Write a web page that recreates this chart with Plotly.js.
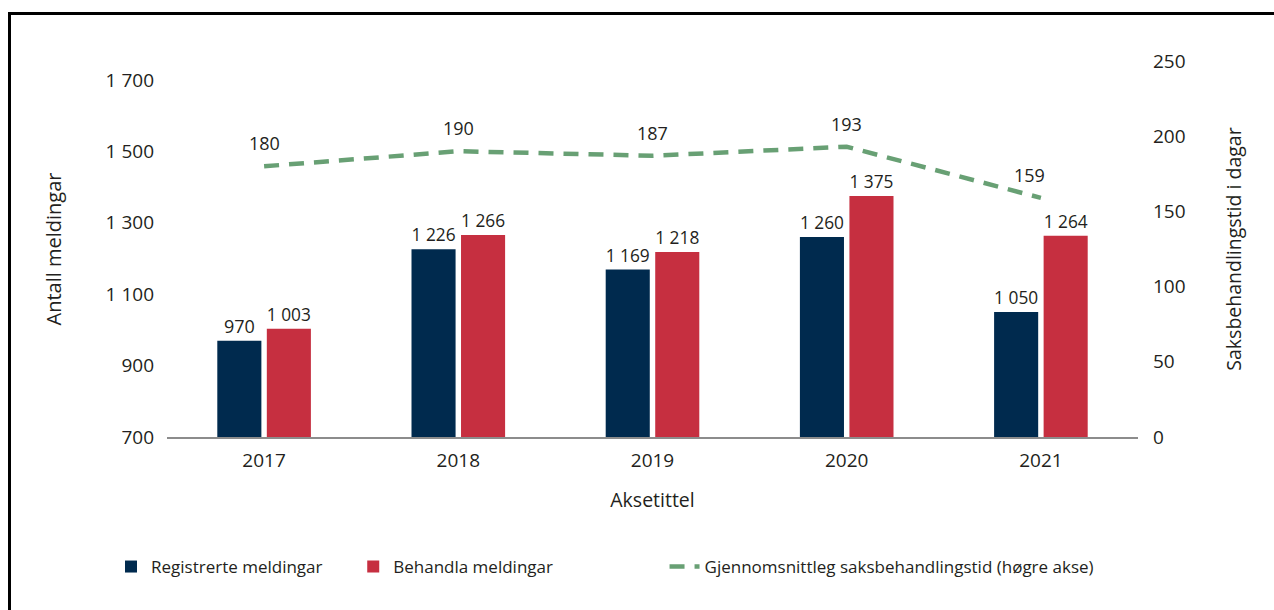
<!DOCTYPE html>
<html>
<head>
<meta charset="utf-8">
<script src="https://cdn.plot.ly/plotly-3.0.1.min.js"></script>
<style>
  html, body { margin: 0; padding: 0; background: #ffffff; overflow: hidden; }
  #wrap { position: relative; width: 1274px; height: 610px; }
  #chart { position: absolute; left: 0; top: 0; width: 1274px; height: 610px; }
  #frame { position: absolute; left: 8px; top: 12px; width: 1300px; height: 700px;
           border: 3px solid #000; box-sizing: border-box; pointer-events: none; }
</style>
</head>
<body>
<div id="wrap">
  <div id="chart"></div>
  <div id="frame"></div>
</div>
<script>
const years = ['2017', '2018', '2019', '2020', '2021'];
const registrerte = [970, 1226, 1169, 1260, 1050];
const behandla = [1003, 1266, 1218, 1375, 1264];
const saksbehandlingstid = [180, 190, 187, 193, 159];

const FONT = 'Open Sans, Noto Sans, sans-serif';
const TXT = '#231f20';

const traces = [
  {
    type: 'bar', name: 'Registrerte meldingar', x: years, y: registrerte,
    marker: { color: '#002a4e' }, legend: 'legend',
    texttemplate: '%{y:,d}', textposition: 'outside', cliponaxis: false,
    textfont: { family: FONT, size: 18, color: TXT }, hoverinfo: 'skip'
  },
  {
    type: 'bar', name: 'Behandla meldingar', x: years, y: behandla,
    marker: { color: '#c62f40' }, legend: 'legend2',
    texttemplate: '%{y:,d}', textposition: 'outside', cliponaxis: false,
    textfont: { family: FONT, size: 18, color: TXT }, hoverinfo: 'skip'
  },
  {
    type: 'scatter', mode: 'lines', name: 'Gjennomsnittleg saksbehandlingstid (høgre akse)',
    x: years, y: saksbehandlingstid, yaxis: 'y2', legend: 'legend3',
    line: { color: '#68a074', width: 4.5, dash: '15px,10px' }, hoverinfo: 'skip'
  }
];

const annotations = years.map((yr, i) => ({
  x: i, y: saksbehandlingstid[i], xref: 'x', yref: 'y2',
  text: String(saksbehandlingstid[i]), showarrow: false,
  yanchor: 'middle', yshift: 23, xshift: i === years.length - 1 ? -11 : 0,
  font: { family: FONT, size: 18, color: TXT }
}));

const legendBase = {
  orientation: 'h', xanchor: 'left', y: -0.3457, yanchor: 'middle',
  font: { family: FONT, size: 17, color: TXT }, bgcolor: 'rgba(0,0,0,0)', borderwidth: 0
};

const layout = {
  width: 1274, height: 610,
  margin: { l: 167, r: 136, t: 61, b: 173 },
  paper_bgcolor: '#ffffff', plot_bgcolor: '#ffffff',
  separators: ', ',
  font: { family: FONT, size: 19, color: TXT },
  barmode: 'group', bargap: 0.49, bargroupgap: 0.11,
  showlegend: true,
  legend: Object.assign({}, legendBase, { x: -0.0577 }),
  legend2: Object.assign({}, legendBase, { x: 0.1918 }),
  legend3: Object.assign({}, legendBase, { x: 0.5124 }),
  xaxis: {
    type: 'category', showgrid: false, zeroline: false,
    showline: true, linecolor: '#8c8c8c', linewidth: 2,
    ticks: '', ticklabelstandoff: 5,
    tickfont: { family: FONT, size: 19, color: TXT },
    title: { text: 'Aksetittel', standoff: 22, font: { family: FONT, size: 19.5, color: TXT } }
  },
  yaxis: {
    range: [700, 1753.4], tickvals: [700, 900, 1100, 1300, 1500, 1700],
    tickformat: ',d', separatethousands: true,
    showgrid: false, zeroline: false, showline: false, ticks: '',
    ticklabelstandoff: 12,
    tickfont: { family: FONT, size: 19, color: TXT },
    title: { text: 'Antall meldingar', standoff: 38, font: { family: FONT, size: 20, color: TXT } }
  },
  yaxis2: {
    overlaying: 'y', side: 'right', range: [0, 250], tickvals: [0, 50, 100, 150, 200, 250],
    showgrid: false, zeroline: false, showline: false, ticks: '',
    ticklabelstandoff: 14,
    tickfont: { family: FONT, size: 19, color: TXT },
    title: { text: 'Saksbehandlingstid i dagar', standoff: 42, font: { family: FONT, size: 19.5, color: TXT } }
  },
  annotations: annotations
};

Plotly.newPlot('chart', traces, layout, { staticPlot: true, displayModeBar: false });
</script>
</body>
</html>
